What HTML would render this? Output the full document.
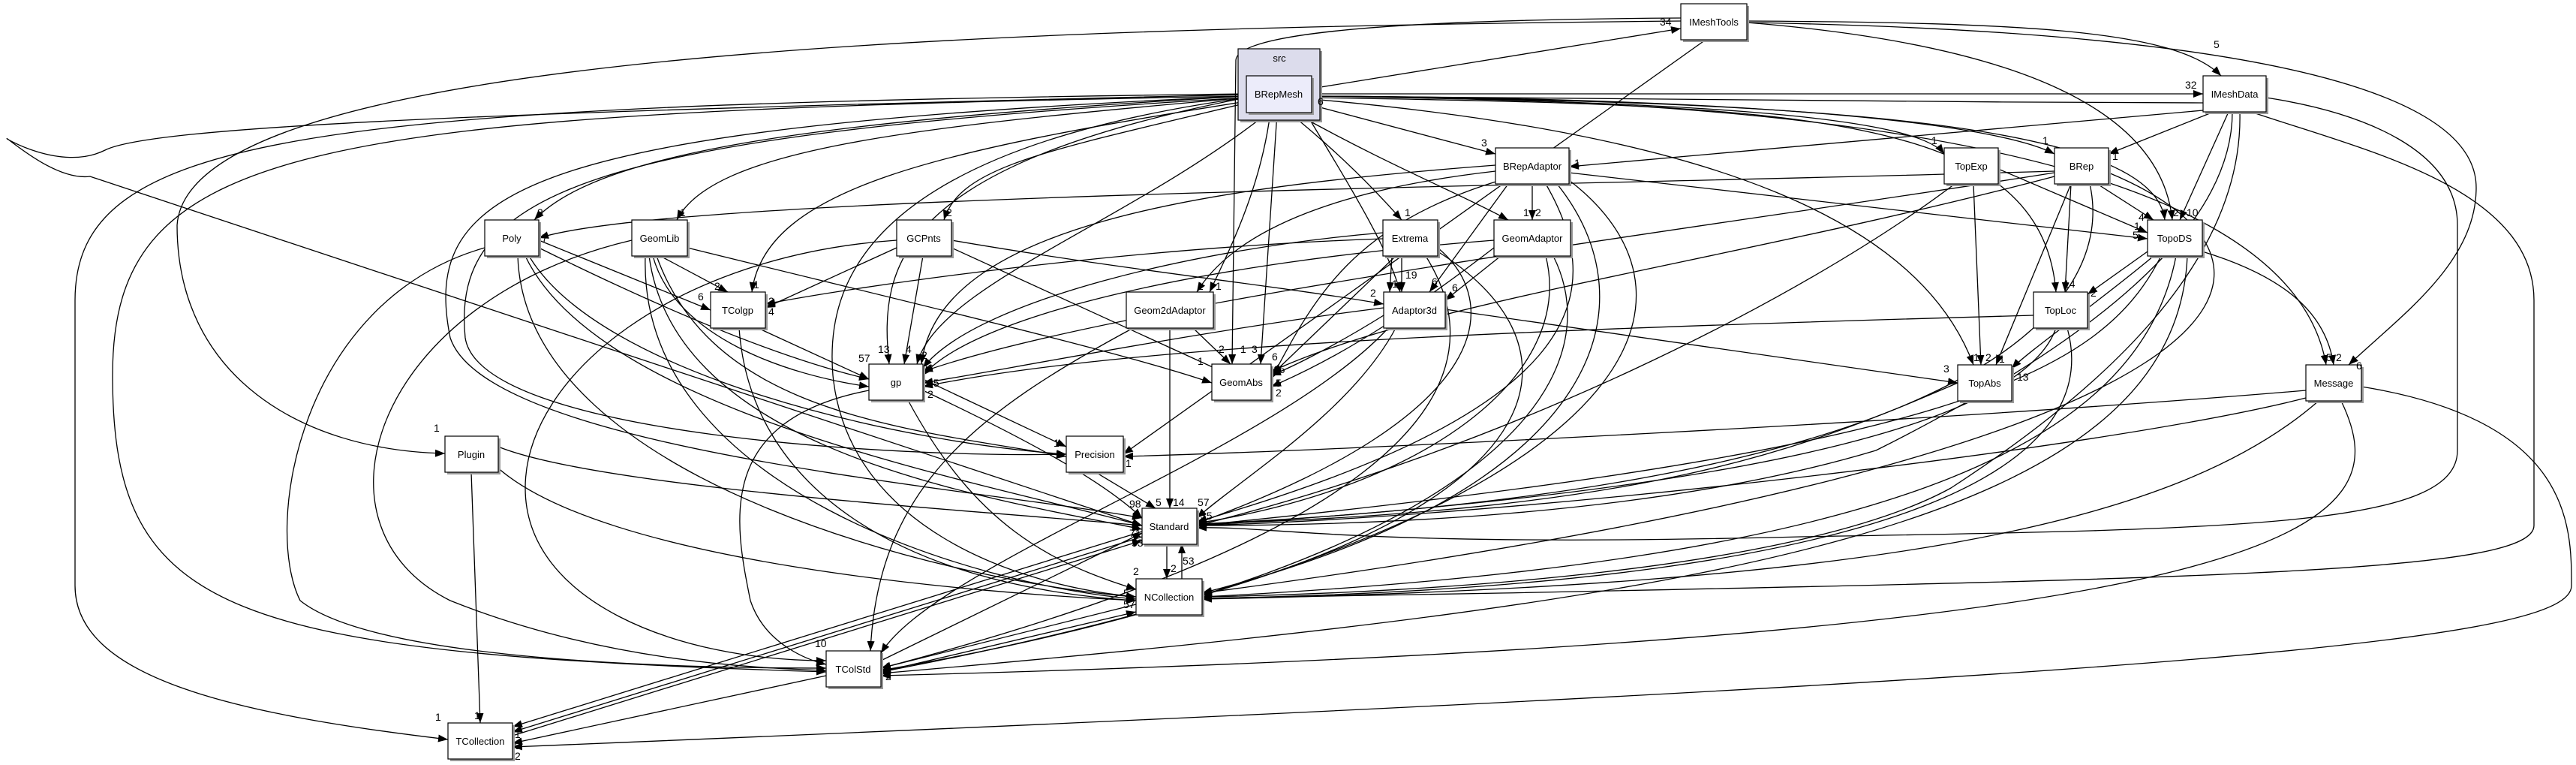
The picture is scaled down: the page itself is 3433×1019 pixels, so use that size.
<!DOCTYPE html>
<html><head><meta charset="utf-8"><style>
html,body{margin:0;padding:0;background:#fff;}
svg{display:block;}
text{font-family:"Liberation Sans",Arial,sans-serif;}
.n{fill:#fff;stroke:#000;stroke-width:1.2;}
.sh{fill:#999;}
.e{fill:none;stroke:#000;stroke-width:1.3;marker-end:url(#a);}
.l{font-size:14px;fill:#000;}
.t{font-size:13px;text-anchor:middle;fill:#000;}
</style></head><body>
<svg width="3433" height="1019" viewBox="0 0 3433 1019" xmlns="http://www.w3.org/2000/svg">
<defs><marker id="a" markerUnits="userSpaceOnUse" markerWidth="14" markerHeight="10" refX="13" refY="5" orient="auto"><path d="M0,0 L13,5 L0,10 z" fill="#000"/></marker></defs>
<rect width="3433" height="1019" fill="#fff"/>

<!-- edges -->
<g>
<path class="e" d="M1748,118 L2240,38"/>
<path class="e" d="M1748,125 L2936,125"/>
<path class="e" d="M2936,137 C2500,136 2000,130 1748,128"/>
<path class="e" d="M1748,140 L1993,205"/>
<path class="e" d="M1748,128 C2200,135 2550,150 2591,205"/>
<path class="e" d="M1748,128 C2300,130 2650,160 2738,205"/>
<path class="e" d="M1748,128 C2400,135 2870,160 2885,293"/>
<path class="e" d="M1748,130 C2400,140 2720,150 2740,389"/>
<path class="e" d="M1748,132 C2300,180 2560,300 2630,486"/>
<path class="e" d="M1748,128 C2400,130 3050,200 3100,486"/>
<path class="e" d="M1718,150 C1780,200 1830,250 1868,293"/>
<path class="e" d="M1725,150 C1850,220 1950,260 2010,293"/>
<path class="e" d="M1693,150 C1680,250 1640,330 1612,389"/>
<path class="e" d="M1740,150 C1800,250 1850,330 1866,389"/>
<path class="e" d="M1702,150 L1680,485"/>
<path class="e" d="M1690,150 C1500,300 1250,380 1222,485"/>
<path class="e" d="M1661,128 C1100,160 800,200 712,293"/>
<path class="e" d="M1661,130 C1200,170 950,200 902,293"/>
<path class="e" d="M1670,135 C1400,200 1280,220 1258,293"/>
<path class="e" d="M1661,135 C1250,200 1020,250 1002,389"/>
<path class="e" d="M1661,130 C1200,220 1170,350 1185,485"/>
<path class="e" d="M1661,130 C800,180 600,250 620,450 C640,580 1200,610 1421,605"/>
<path class="e" d="M1661,128 C700,170 560,250 600,450 C650,600 1300,650 1522,690"/>
<path class="e" d="M1661,130 C1150,200 1100,380 1110,500 C1130,700 1350,780 1514,795"/>
<path class="e" d="M1661,128 C400,150 150,190 150,500 C150,820 300,870 1101,895"/>
<path class="e" d="M1661,125 C400,140 100,180 100,400 L100,780 C100,900 300,950 597,985"/>
<path class="e" d="M1661,126 C600,150 200,170 140,200 C80,230 0,180 10,185 C30,200 80,240 120,235 L1522,700"/>
<path class="e" d="M2240,28 C1200,38 250,80 236,300 C236,500 400,600 593,604"/>
<path class="e" d="M2328,28 C2700,30 2900,40 2960,101"/>
<path class="e" d="M2328,30 C2700,60 2880,150 2895,293"/>
<path class="e" d="M2328,30 C2900,40 3300,100 3300,250 C3300,350 3200,420 3130,486"/>
<path class="e" d="M2240,24 C1900,26 1650,40 1647,80 L1642,485"/>
<path class="e" d="M2273,53 L1497,605"/>
<path class="e" d="M2936,147 L2091,222"/>
<path class="e" d="M2950,149 L2810,205"/>
<path class="e" d="M2970,149 L2905,293"/>
<path class="e" d="M2975,149 C2975,300 2800,450 2500,600 C2200,690 1800,700 1595,700"/>
<path class="e" d="M2985,149 C2990,350 2800,520 2600,650 C2400,760 1900,790 1602,795"/>
<path class="e" d="M3020,130 C3150,150 3275,200 3275,300 L3275,600 C3275,700 3000,705 2400,715 C1800,730 1700,700 1595,703"/>
<path class="e" d="M3000,149 C3150,200 3377,250 3377,400 L3377,700 C3377,760 3000,770 2000,790 L1602,797"/>
<path class="e" d="M2042,245 L2042,293"/>
<path class="e" d="M1993,228 C1800,250 1650,300 1595,389"/>
<path class="e" d="M2010,245 L1905,389"/>
<path class="e" d="M1993,220 C1600,250 1250,300 1228,485"/>
<path class="e" d="M2000,240 C1800,300 1750,400 1694,505"/>
<path class="e" d="M2091,230 L2862,318"/>
<path class="e" d="M2060,245 C2150,400 2100,550 1595,695"/>
<path class="e" d="M2075,245 C2200,400 2150,650 1602,790"/>
<path class="e" d="M2091,240 C2300,400 2200,700 1174,895"/>
<path class="e" d="M1868,341 L1868,389"/>
<path class="e" d="M1855,341 L1852,389"/>
<path class="e" d="M1843,310 C1600,330 1300,400 1230,490"/>
<path class="e" d="M1843,318 C1500,330 1150,380 1020,405"/>
<path class="e" d="M1860,341 L1694,500"/>
<path class="e" d="M1916,330 C2000,400 2000,550 1595,697"/>
<path class="e" d="M1916,335 C2100,450 2100,650 1602,793"/>
<path class="e" d="M1900,341 C2000,500 1900,700 1174,890"/>
<path class="e" d="M2000,341 L1926,400"/>
<path class="e" d="M1991,330 C1900,400 1800,470 1694,515"/>
<path class="e" d="M1991,320 C1600,350 1300,420 1230,500"/>
<path class="e" d="M2060,341 C2100,500 1900,650 1595,697"/>
<path class="e" d="M2070,341 C2150,500 2000,750 1174,893"/>
<path class="e" d="M1844,420 C1780,460 1720,490 1694,500"/>
<path class="e" d="M1844,410 C1600,440 1300,500 1230,510"/>
<path class="e" d="M1926,412 L2609,510"/>
<path class="e" d="M1860,437 C1800,550 1650,640 1595,690"/>
<path class="e" d="M1850,437 C1700,600 1250,750 1174,870"/>
<path class="e" d="M1590,437 L1640,485"/>
<path class="e" d="M1559,437 L1559,677"/>
<path class="e" d="M1510,437 C1300,550 1170,650 1160,867"/>
<path class="e" d="M2630,245 L2640,486"/>
<path class="e" d="M2663,225 L2862,310"/>
<path class="e" d="M2605,245 C2400,400 2000,600 1595,700"/>
<path class="e" d="M2760,245 L2752,389"/>
<path class="e" d="M2795,245 L2870,293"/>
<path class="e" d="M2760,245 L2660,486"/>
<path class="e" d="M2738,230 C2300,300 1500,400 1230,495"/>
<path class="e" d="M2738,228 C2000,250 900,260 718,317"/>
<path class="e" d="M2738,235 C2300,350 1900,400 1694,495"/>
<path class="e" d="M2785,245 C2820,400 2650,650 1595,698"/>
<path class="e" d="M2810,230 C3100,350 3050,600 1602,790"/>
<path class="e" d="M2862,335 L2782,392"/>
<path class="e" d="M2870,341 C2800,400 2700,470 2681,491"/>
<path class="e" d="M2935,335 C3050,370 3100,420 3110,486"/>
<path class="e" d="M2880,341 C2800,500 2600,600 1595,700"/>
<path class="e" d="M2900,341 C2850,600 2500,750 1602,795"/>
<path class="e" d="M2915,341 C2900,700 2300,800 1174,897"/>
<path class="e" d="M2710,420 C2000,440 1500,460 1230,515"/>
<path class="e" d="M2740,437 C2700,550 2400,650 1595,700"/>
<path class="e" d="M2755,437 C2800,600 2600,780 1602,797"/>
<path class="e" d="M2609,510 C2400,600 2200,680 1595,698"/>
<path class="e" d="M3073,530 C2800,600 2000,690 1595,700"/>
<path class="e" d="M3090,534 C2900,700 2500,780 1602,798"/>
<path class="e" d="M3120,534 C3200,700 3100,850 1174,900"/>
<path class="e" d="M3147,515 C3427,560 3427,700 3427,780 C3427,850 3000,900 683,995"/>
<path class="e" d="M3073,520 C2600,560 1800,600 1497,608"/>
<path class="e" d="M718,320 L947,413"/>
<path class="e" d="M718,330 C900,420 1050,480 1158,505"/>
<path class="e" d="M700,341 C800,550 1300,640 1522,700"/>
<path class="e" d="M690,341 C700,650 1300,780 1514,795"/>
<path class="e" d="M646,330 C400,400 350,700 400,800 C500,880 900,890 1101,890"/>
<path class="e" d="M705,341 C800,500 1200,590 1421,605"/>
<path class="e" d="M880,341 L970,389"/>
<path class="e" d="M870,341 C900,450 1050,500 1158,515"/>
<path class="e" d="M916,330 C1200,400 1500,470 1615,510"/>
<path class="e" d="M865,341 C900,600 1300,660 1522,705"/>
<path class="e" d="M860,341 C850,650 1300,780 1514,798"/>
<path class="e" d="M842,320 C500,400 400,700 600,800 C800,880 1000,890 1101,893"/>
<path class="e" d="M875,341 C950,550 1200,570 1421,608"/>
<path class="e" d="M1195,330 L1020,410"/>
<path class="e" d="M1230,341 L1205,485"/>
<path class="e" d="M1268,330 L1640,500"/>
<path class="e" d="M1268,320 C1500,360 1700,380 1844,405"/>
<path class="e" d="M1195,320 C900,340 700,500 700,650 C700,800 900,880 1101,880"/>
<path class="e" d="M1010,437 L1158,505"/>
<path class="e" d="M985,437 C1000,650 1200,780 1514,800"/>
<path class="e" d="M1230,505 L1421,595"/>
<path class="e" d="M1230,520 C1400,600 1480,650 1522,690"/>
<path class="e" d="M1210,533 C1300,700 1400,750 1514,785"/>
<path class="e" d="M1158,520 C950,560 980,700 1000,800 C1020,860 1080,880 1101,885"/>
<path class="e" d="M1460,629 L1540,677"/>
<path class="e" d="M1555,724 L1555,771"/>
<path class="e" d="M1575,771 L1575,724"/>
<path class="e" d="M1522,715 L683,975"/>
<path class="e" d="M1522,708 L683,968"/>
<path class="e" d="M683,980 L1522,720"/>
<path class="e" d="M1174,880 L1522,710"/>
<path class="e" d="M1514,805 L1174,890"/>
<path class="e" d="M1174,895 L1514,815"/>
<path class="e" d="M1101,900 L683,990"/>
<path class="e" d="M628,629 L640,963"/>
<path class="e" d="M664,595 C800,650 1300,680 1522,700"/>
<path class="e" d="M660,620 C800,750 1300,790 1514,800"/>
</g>

<!-- cluster -->
<rect x="1653" y="68" width="109" height="95" class="sh"/>
<rect x="1650" y="65" width="109" height="95" fill="#dcdcec" stroke="#000" stroke-width="1.2"/>
<text class="t" x="1705" y="82">src</text>

<!-- nodes -->
<g>
<rect x="1664" y="104" width="87" height="49" class="sh"/><rect x="1661" y="101" width="87" height="49" fill="#ececfa" stroke="#000" stroke-width="1.2"/><text class="t" x="1704" y="130">BRepMesh</text>
<rect x="2243" y="8" width="88" height="48" class="sh"/><rect x="2240" y="5" width="88" height="48" class="n"/><text class="t" x="2284" y="34">IMeshTools</text>
<rect x="2939" y="104" width="84" height="48" class="sh"/><rect x="2936" y="101" width="84" height="48" class="n"/><text class="t" x="2978" y="130">IMeshData</text>
<rect x="1996" y="200" width="98" height="48" class="sh"/><rect x="1993" y="197" width="98" height="48" class="n"/><text class="t" x="2042" y="226">BRepAdaptor</text>
<rect x="2594" y="200" width="72" height="48" class="sh"/><rect x="2591" y="197" width="72" height="48" class="n"/><text class="t" x="2627" y="226">TopExp</text>
<rect x="2741" y="200" width="72" height="48" class="sh"/><rect x="2738" y="197" width="72" height="48" class="n"/><text class="t" x="2774" y="226">BRep</text>
<rect x="649" y="296" width="72" height="48" class="sh"/><rect x="646" y="293" width="72" height="48" class="n"/><text class="t" x="682" y="322">Poly</text>
<rect x="845" y="296" width="74" height="48" class="sh"/><rect x="842" y="293" width="74" height="48" class="n"/><text class="t" x="879" y="322">GeomLib</text>
<rect x="1198" y="296" width="73" height="48" class="sh"/><rect x="1195" y="293" width="73" height="48" class="n"/><text class="t" x="1231" y="322">GCPnts</text>
<rect x="1846" y="296" width="73" height="48" class="sh"/><rect x="1843" y="293" width="73" height="48" class="n"/><text class="t" x="1879" y="322">Extrema</text>
<rect x="1994" y="296" width="102" height="48" class="sh"/><rect x="1991" y="293" width="102" height="48" class="n"/><text class="t" x="2042" y="322">GeomAdaptor</text>
<rect x="2865" y="296" width="73" height="48" class="sh"/><rect x="2862" y="293" width="73" height="48" class="n"/><text class="t" x="2898" y="322">TopoDS</text>
<rect x="950" y="392" width="73" height="48" class="sh"/><rect x="947" y="389" width="73" height="48" class="n"/><text class="t" x="983" y="418">TColgp</text>
<rect x="1504" y="392" width="116" height="48" class="sh"/><rect x="1501" y="389" width="116" height="48" class="n"/><text class="t" x="1559" y="418">Geom2dAdaptor</text>
<rect x="1847" y="392" width="82" height="48" class="sh"/><rect x="1844" y="389" width="82" height="48" class="n"/><text class="t" x="1885" y="418">Adaptor3d</text>
<rect x="2713" y="392" width="72" height="48" class="sh"/><rect x="2710" y="389" width="72" height="48" class="n"/><text class="t" x="2746" y="418">TopLoc</text>
<rect x="1161" y="488" width="72" height="48" class="sh"/><rect x="1158" y="485" width="72" height="48" class="n"/><text class="t" x="1194" y="514">gp</text>
<rect x="1618" y="488" width="79" height="48" class="sh"/><rect x="1615" y="485" width="79" height="48" class="n"/><text class="t" x="1654" y="514">GeomAbs</text>
<rect x="2612" y="489" width="72" height="48" class="sh"/><rect x="2609" y="486" width="72" height="48" class="n"/><text class="t" x="2645" y="515">TopAbs</text>
<rect x="3076" y="489" width="74" height="48" class="sh"/><rect x="3073" y="486" width="74" height="48" class="n"/><text class="t" x="3110" y="515">Message</text>
<rect x="596" y="584" width="71" height="48" class="sh"/><rect x="593" y="581" width="71" height="48" class="n"/><text class="t" x="628" y="610">Plugin</text>
<rect x="1424" y="584" width="76" height="48" class="sh"/><rect x="1421" y="581" width="76" height="48" class="n"/><text class="t" x="1459" y="610">Precision</text>
<rect x="1525" y="680" width="73" height="48" class="sh"/><rect x="1522" y="677" width="73" height="48" class="n"/><text class="t" x="1558" y="706">Standard</text>
<rect x="1517" y="774" width="88" height="48" class="sh"/><rect x="1514" y="771" width="88" height="48" class="n"/><text class="t" x="1558" y="800">NCollection</text>
<rect x="1104" y="870" width="73" height="48" class="sh"/><rect x="1101" y="867" width="73" height="48" class="n"/><text class="t" x="1137" y="896">TColStd</text>
<rect x="600" y="966" width="86" height="48" class="sh"/><rect x="597" y="963" width="86" height="48" class="n"/><text class="t" x="640" y="992">TCollection</text>
</g>

<!-- edge labels -->
<g class="l">
<text x="2212" y="34">34</text><text x="2912" y="118">32</text><text x="1756" y="140">6</text>
<text x="1974" y="195">3</text><text x="2574" y="192">1</text><text x="2722" y="192">1</text>
<text x="2098" y="222">1</text><text x="2815" y="213">1</text><text x="2950" y="64">5</text>
<text x="2882" y="288">7</text><text x="2896" y="288">2</text><text x="2914" y="288">10</text>
<text x="2850" y="294">4</text><text x="2844" y="306">1</text><text x="2842" y="318">5</text>
<text x="2786" y="395">2</text><text x="2750" y="383">14</text>
<text x="2630" y="481">1</text><text x="2646" y="481">2</text><text x="2664" y="483">1</text>
<text x="2590" y="496">3</text><text x="2688" y="507">13</text>
<text x="3100" y="481">5</text><text x="3113" y="481">2</text><text x="3140" y="492">6</text>
<text x="1872" y="288">1</text><text x="2030" y="288">1</text><text x="2046" y="288">2</text>
<text x="1855" y="383">1</text><text x="1873" y="371">19</text><text x="1908" y="380">6</text><text x="1935" y="388">6</text>
<text x="1826" y="395">2</text><text x="1596" y="386">1</text><text x="1620" y="386">1</text>
<text x="1624" y="470">2</text><text x="1653" y="470">1</text><text x="1668" y="470">3</text><text x="1695" y="480">6</text>
<text x="1697" y="497">15</text><text x="1700" y="515">5</text><text x="1700" y="528">2</text>
<text x="716" y="288">3</text><text x="722" y="322">7</text><text x="906" y="288">1</text><text x="1261" y="288">2</text>
<text x="952" y="386">2</text><text x="1004" y="384">1</text><text x="930" y="400">6</text>
<text x="1024" y="406">3</text><text x="1024" y="420">4</text>
<text x="1170" y="470">13</text><text x="1207" y="470">4</text><text x="1228" y="478">2</text>
<text x="1144" y="482">57</text><text x="1236" y="495">6</text><text x="1236" y="515">25</text><text x="1236" y="530">2</text>
<text x="1596" y="486">1</text>
<text x="1404" y="595">1</text><text x="1500" y="622">1</text>
<text x="1540" y="674">5</text><text x="1563" y="674">14</text><text x="1505" y="676">98</text><text x="1596" y="674">57</text>
<text x="1600" y="692">35</text><text x="1505" y="715">71</text><text x="1508" y="728">53</text>
<text x="1576" y="752">53</text><text x="1560" y="762">2</text><text x="1510" y="766">2</text>
<text x="1497" y="795">5</text><text x="1497" y="810">57</text>
<text x="1086" y="862">10</text><text x="1180" y="892">1</text><text x="1180" y="906">2</text>
<text x="580" y="960">1</text><text x="632" y="958">1</text><text x="686" y="983">1</text><text x="686" y="998">9</text><text x="686" y="1012">2</text>
<text x="578" y="575">1</text>
</g>
</svg>
</body></html>
